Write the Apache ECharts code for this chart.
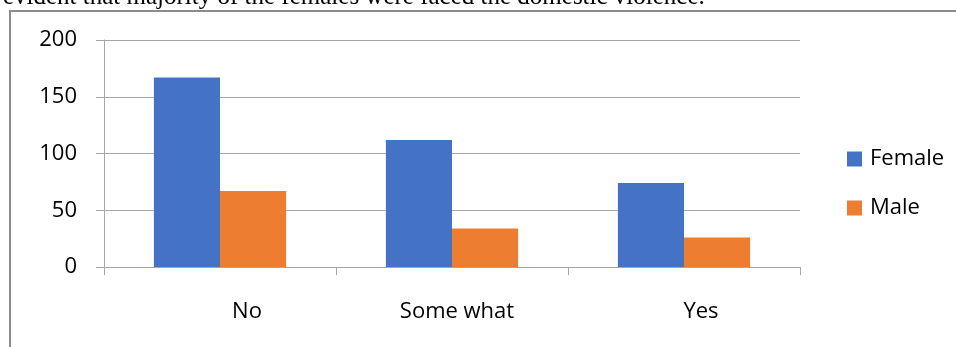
<!DOCTYPE html>
<html>
<head>
<meta charset="utf-8">
<script src="https://cdn.jsdelivr.net/npm/echarts@6/dist/echarts.min.js"></script>
<style>
  html, body { margin: 0; padding: 0; background: #ffffff; }
  #chart { width: 956px; height: 347px; }
</style>
</head>
<body>
<div id="chart"></div>
<script>
// Responses to the domestic violence question, split by gender
var categories = ['No', 'Some what', 'Yes'];
var femaleValues = [167, 112, 74];
var maleValues = [67, 34, 26];
var yTicks = [0, 50, 100, 150, 200];
var seriesNames = ['Female', 'Male'];
var captionText = 's evident that majority of the females were faced the domestic violence.';

// horizontal nudge for each category label (px)
var labelShift = { 'No': 27, 'Some what': 5, 'Yes': 17 };

var FONT = 'Open Sans';
var rich = {};
categories.forEach(function (c, i) {
  var s = labelShift[c] || 0;
  rich['c' + i] = {
    fontFamily: FONT, fontSize: 22, color: '#000000',
    padding: s >= 0 ? [0, 0, 0, 2 * s] : [0, -2 * s, 0, 0]
  };
});

var chart = echarts.init(document.getElementById('chart'), null, { renderer: 'canvas' });
chart.setOption({
  backgroundColor: '#ffffff',
  animation: false,
  graphic: [
    {
      type: 'text', left: -13, top: -15, silent: true,
      style: { text: captionText, font: '25px "Liberation Serif"', fill: '#000000' }
    },
    {
      type: 'rect', silent: true,
      shape: { x: 10, y: 11, width: 1000, height: 400 },
      style: { fill: 'none', stroke: '#8c8c8c', lineWidth: 2 }
    }
  ],
  grid: { left: 104, right: 156, top: 40, bottom: 80, containLabel: false },
  legend: {
    orient: 'vertical', left: 842, top: 143, itemGap: 27,
    itemWidth: 15, itemHeight: 15, icon: 'rect',
    data: seriesNames,
    textStyle: { fontFamily: FONT, fontSize: 22, color: '#000000', padding: [0, 0, 0, 3] }
  },
  xAxis: {
    type: 'category', data: categories,
    axisLine: { show: true, lineStyle: { color: '#a6a6a6', width: 1 } },
    axisTick: { show: true, length: 8, interval: 0, lineStyle: { color: '#a6a6a6' } },
    axisLabel: {
      margin: 34, interval: 0,
      formatter: function (v) { return '{c' + categories.indexOf(v) + '|' + v + '}'; },
      rich: rich
    }
  },
  yAxis: {
    type: 'value', min: yTicks[0], max: yTicks[yTicks.length - 1], interval: yTicks[1] - yTicks[0],
    axisLine: { show: true, lineStyle: { color: '#a6a6a6', width: 1 } },
    axisTick: { show: true, length: 8, lineStyle: { color: '#a6a6a6' } },
    axisLabel: { margin: 27, fontFamily: FONT, fontSize: 22, color: '#000000' },
    splitLine: { show: true, lineStyle: { color: '#a6a6a6', width: 1 } }
  },
  series: [
    { name: seriesNames[0], type: 'bar', data: femaleValues, barGap: '0%', barCategoryGap: '43%',
      itemStyle: { color: '#4472C4' } },
    { name: seriesNames[1], type: 'bar', data: maleValues, barGap: '0%', barCategoryGap: '43%',
      itemStyle: { color: '#ED7D31' } }
  ]
});
</script>
</body>
</html>
